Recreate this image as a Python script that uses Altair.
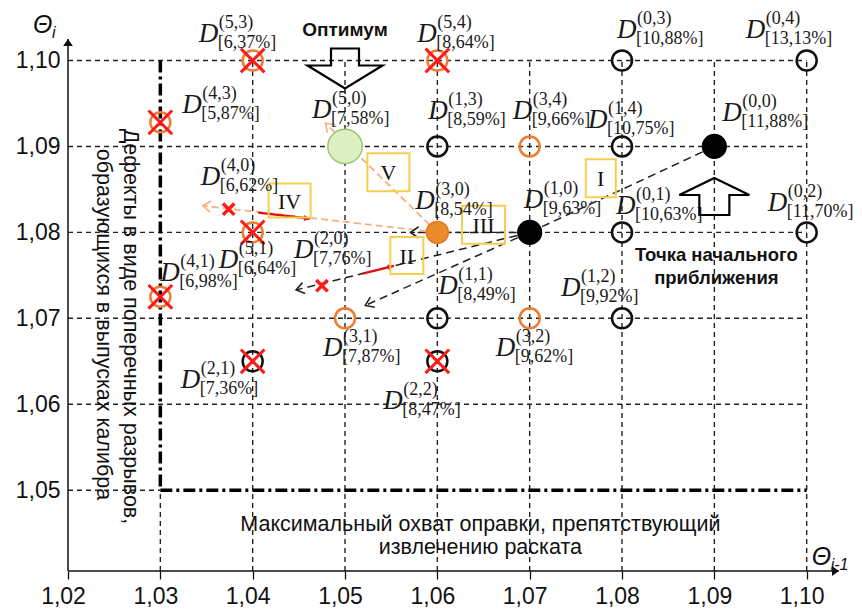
import math
import altair as alt
import pandas as pd

# ---------------- data ----------------
x_ticks = [1.02, 1.03, 1.04, 1.05, 1.06, 1.07, 1.08, 1.09, 1.10]
y_ticks = [1.05, 1.06, 1.07, 1.08, 1.09, 1.10]

# limits (thick dash-dot boundaries)
limit_theta_prev = 1.03   # vertical boundary (defects)
limit_theta_cur = 1.05    # horizontal boundary (mandrel)

pt_name = ["(5,3)", "(5,4)", "(0,3)", "(0,4)", "(4,3)", "(5,0)", "(1,3)", "(3,4)",
           "(1,4)", "(0,0)", "(4,0)", "(5,1)", "(3,0)", "(1,0)", "(0,1)", "(0,2)",
           "(4,1)", "(2,0)", "(1,1)", "(3,1)", "(3,2)", "(1,2)", "(2,1)", "(2,2)"]
pt_value = ["[6,37%]", "[8,64%]", "[10,88%]", "[13,13%]", "[5,87%]", "[7,58%]", "[8,59%]", "[9,66%]",
            "[10,75%]", "[11,88%]", "[6,62%]", "[6,64%]", "[8,54%]", "[9,63%]", "[10,63%]", "[11,70%]",
            "[6,98%]", "[7,76%]", "[8,49%]", "[7,87%]", "[9,62%]", "[9,92%]", "[7,36%]", "[8,47%]"]
pt_x = [1.04, 1.06, 1.08, 1.10, 1.03, 1.05, 1.06, 1.07,
        1.08, 1.09, 1.0374, 1.04, 1.06, 1.07, 1.08, 1.10,
        1.03, 1.0475, 1.06, 1.05, 1.07, 1.08, 1.04, 1.06]
pt_y = [1.10, 1.10, 1.10, 1.10, 1.0928, 1.09, 1.09, 1.09,
        1.09, 1.09, 1.0827, 1.08, 1.08, 1.08, 1.08, 1.08,
        1.0725, 1.0738, 1.07, 1.07, 1.07, 1.07, 1.065, 1.065]
pt_kind = ["rej_orange", "rej_orange", "black", "black", "rej_orange", "optimum", "black", "orange",
           "black", "start", "rej_mark", "rej_orange", "current", "start", "black", "black",
           "rej_orange", "rej_mark", "black", "orange", "orange", "black", "rej_black", "rej_black"]

# search steps (from -> to)
step_x1 = [1.09, 1.07, 1.07, 1.07, 1.06, 1.06, 1.0406, 1.0519]
step_y1 = [1.09, 1.08, 1.08, 1.08, 1.08, 1.08, 1.0823, 1.0752]
step_x2 = [1.07, 1.0571, 1.0447, 1.0522, 1.0479, 1.0346, 1.0462, 1.0553]
step_y2 = [1.08, 1.08, 1.0733, 1.0715, 1.0927, 1.0831, 1.0816, 1.0761]
step_kind = ["black_plain", "black", "black", "black", "orange", "orange", "red", "red"]

box_label = ["I", "II", "III", "IV", "V"]
box_cx = [1.0777, 1.0567, 1.0650, 1.0440, 1.0547]
box_cy = [1.0863, 1.0773, 1.0809, 1.0837, 1.0870]

# ---------------- layout ----------------
XMIN, XMAX = 1.02, 1.1035
YMIN, YMAX = 1.0406, 1.1025
W, H = 771, 532
SX = W / (XMAX - XMIN)
SY = H / (YMAX - YMIN)

def px_x(v, d):
    return v + d / SX

def px_y(v, d):
    return v - d / SY

# label anchors: offset (px) of "D" left/baseline from the point
lab_dx = [-54, -20, -5, -61, 22, -33, -9, -17, -34, 8, -28, -34, -22, -6, -6, -39,
          0, -28, 1, -22, -34, -61, -72, -54]
lab_dy = [-18, -18, -22, -22, -9, -28, -27, -27, -18, -25, -24, 36, -23, -24, -18, -21,
          -16, -28, -24, 38, 38, -22, 27, 48]

box_w = [30, 33, 43, 42, 42]
box_h = [38, 37, 38, 34, 38]

SANS = "Liberation Sans, Arial, sans-serif"
SERIF = "Liberation Serif, Times New Roman, serif"
ORANGE = "#ED7D31"
LORANGE = "#F4B183"
RED = "#FF1A1A"
GOLD = "#F7CD4E"
INK = "#111111"

xs = alt.Scale(domain=[XMIN, XMAX], nice=False, zero=False)
ys = alt.Scale(domain=[YMIN, YMAX], nice=False, zero=False)
lab_expr = "replace(format(datum.value, '.2f'), '.', ',')"
x_axis = alt.Axis(values=x_ticks, labelExpr=lab_expr, title=None, domain=False, grid=False,
                  ticks=True, tickSize=8, tickColor=INK, tickWidth=1.3,
                  labelFont=SANS, labelFontSize=23, labelColor=INK, labelFlush=False,
                  labelPadding=17, labelBaseline="middle", labelOffset=-5)
y_axis = alt.Axis(values=y_ticks, labelExpr=lab_expr, title=None, domain=False, grid=False,
                  ticks=False, labelFont=SANS, labelFontSize=23, labelColor=INK,
                  labelPadding=8, labelFlush=False)

def X(f):
    return alt.X(f, type="quantitative", scale=xs, axis=x_axis)

def Y(f):
    return alt.Y(f, type="quantitative", scale=ys, axis=y_axis)

layers = []

# ---- grid segments ----
grid = []
for yy in y_ticks[1:]:
    grid.append(dict(x1=x_ticks[0], y1=yy, x2=max(x_ticks), y2=yy))
grid.append(dict(x1=x_ticks[0], y1=limit_theta_cur, x2=limit_theta_prev, y2=limit_theta_cur))
for xx in x_ticks[2:]:
    grid.append(dict(x1=xx, y1=YMIN, x2=xx, y2=max(y_ticks)))
grid.append(dict(x1=limit_theta_prev, y1=YMIN, x2=limit_theta_prev, y2=limit_theta_cur))
layers.append(alt.Chart(pd.DataFrame(grid)).mark_rule(color="#222", strokeWidth=1.4, strokeDash=[5, 4])
              .encode(x=X("x1"), y=Y("y1"), x2="x2", y2="y2"))

# ---- boundaries ----
bnd = pd.DataFrame([
    dict(x1=limit_theta_prev, y1=max(y_ticks), x2=limit_theta_prev, y2=limit_theta_cur),
    dict(x1=limit_theta_prev, y1=limit_theta_cur, x2=max(x_ticks), y2=limit_theta_cur),
])
layers.append(alt.Chart(bnd).mark_rule(color="#000", strokeWidth=3.5, strokeDash=[12, 4, 3, 4])
              .encode(x=X("x1"), y=Y("y1"), x2="x2", y2="y2"))

# ---- axis lines + arrowheads ----
ax = pd.DataFrame([
    dict(x1=XMIN, y1=YMIN, x2=XMIN, y2=YMAX, ang=270),
    dict(x1=XMIN, y1=YMIN, x2=XMAX, y2=YMIN, ang=0),
])
layers.append(alt.Chart(ax).mark_rule(color=INK, strokeWidth=1.5)
              .encode(x=X("x1"), y=Y("y1"), x2="x2", y2="y2"))
layers.append(alt.Chart(ax).mark_point(shape="M 0 0 L -1 -0.7 L -1 0.7 Z", filled=True, color=INK,
                                       size=196, opacity=1)
              .encode(x=X("x2"), y=Y("y2"), angle=alt.Angle("ang:Q", scale=None)))

# ---- search steps ----
steps = pd.DataFrame(dict(x1=step_x1, y1=step_y1, x2=step_x2, y2=step_y2, kind=step_kind))
steps["ang"] = [
    math.degrees(math.atan2(-(b2 - b1) * SY, (a2 - a1) * SX)) % 360
    for a1, b1, a2, b2 in zip(steps.x1, steps.y1, steps.x2, steps.y2)
]
steps["col"] = steps.kind.map({"black_plain": "#222", "black": "#222", "orange": LORANGE, "red": "#E01010"})

blk = steps[steps.kind.isin(["black_plain", "black"])]
org = steps[steps.kind == "orange"]
red = steps[steps.kind == "red"]
layers.append(alt.Chart(blk).mark_rule(color="#222", strokeWidth=1.5, strokeDash=[8, 5])
              .encode(x=X("x1"), y=Y("y1"), x2="x2", y2="y2"))
layers.append(alt.Chart(org).mark_rule(color=LORANGE, strokeWidth=1.8, strokeDash=[7, 4])
              .encode(x=X("x1"), y=Y("y1"), x2="x2", y2="y2"))
layers.append(alt.Chart(red).mark_rule(color="#E01010", strokeWidth=2.4)
              .encode(x=X("x1"), y=Y("y1"), x2="x2", y2="y2"))
heads = steps[steps.kind.isin(["black", "orange"])]
layers.append(alt.Chart(heads).mark_point(shape="M -1 -0.7 L 0 0 L -1 0.7", filled=False,
                                          size=256, strokeWidth=1.6, opacity=1)
              .encode(x=X("x2"), y=Y("y2"), angle=alt.Angle("ang:Q", scale=None),
                      color=alt.Color("col:N", scale=None)))
layers.append(alt.Chart(red).mark_point(shape="M 0 0 L -1 -0.5 L -1 0.5 Z", filled=True,
                                        size=144, color="#E01010", opacity=1)
              .encode(x=X("x2"), y=Y("y2"), angle=alt.Angle("ang:Q", scale=None)))

# ---- boxes ----
boxes = pd.DataFrame(dict(lab=box_label, cx=box_cx, cy=box_cy))
boxes["bx1"] = [px_x(c, -w / 2) for c, w in zip(box_cx, box_w)]
boxes["bx2"] = [px_x(c, w / 2) for c, w in zip(box_cx, box_w)]
boxes["by1"] = [px_y(c, -h / 2) for c, h in zip(box_cy, box_h)]
boxes["by2"] = [px_y(c, h / 2) for c, h in zip(box_cy, box_h)]
layers.append(alt.Chart(boxes).mark_rect(fillOpacity=0, stroke=GOLD, strokeWidth=2)
              .encode(x=X("bx1"), x2="bx2", y=Y("by1"), y2="by2"))
layers.append(alt.Chart(boxes).mark_text(font=SERIF, fontSize=22, color=INK, baseline="middle", dy=1)
              .encode(x=X("cx"), y=Y("cy"), text="lab:N"))

# ---- points ----
pts = pd.DataFrame(dict(name=pt_name, val=pt_value, x=pt_x, y=pt_y, kind=pt_kind,
                        ldx=lab_dx, ldy=lab_dy))
pts["lx"] = [px_x(a, d) for a, d in zip(pts.x, pts.ldx)]
pts["ly"] = [px_y(b, d) for b, d in zip(pts.y, pts.ldy)]

opn = pts[pts.kind.isin(["black", "orange", "rej_orange", "rej_black"])].copy()
opn["col"] = opn.kind.map({"black": INK, "rej_black": INK, "orange": ORANGE, "rej_orange": ORANGE})
layers.append(alt.Chart(opn).mark_point(shape="circle", filled=False, size=400, strokeWidth=2.5, opacity=1)
              .encode(x=X("x"), y=Y("y"), color=alt.Color("col:N", scale=None)))

fil = pts[pts.kind.isin(["start", "current", "optimum"])].copy()
fil["fc"] = fil.kind.map({"start": "#000000", "current": "#EC8A2E", "optimum": "#DCF0C4"})
fil["sc"] = fil.kind.map({"start": "#000000", "current": "#E07B22", "optimum": "#9CC66F"})
fil["sz"] = fil.kind.map({"start": 560, "current": 480, "optimum": 1180})
layers.append(alt.Chart(fil).mark_point(shape="circle", filled=True, strokeWidth=1.5, opacity=1, fillOpacity=1)
              .encode(x=X("x"), y=Y("y"), fill=alt.Fill("fc:N", scale=None),
                      stroke=alt.Stroke("sc:N", scale=None), size=alt.Size("sz:Q", scale=None)))

rej = pts[pts.kind.isin(["rej_orange", "rej_black", "rej_mark"])].copy()
rej["sz"] = rej.kind.map({"rej_orange": 560, "rej_black": 560, "rej_mark": 130})
rej["sw"] = rej.kind.map({"rej_orange": 3.0, "rej_black": 3.0, "rej_mark": 3.5})
layers.append(alt.Chart(rej).mark_point(shape="M -1 -1 L 1 1 M 1 -1 L -1 1", filled=False, color=RED, opacity=1)
              .encode(x=X("x"), y=Y("y"), size=alt.Size("sz:Q", scale=None),
                      strokeWidth=alt.StrokeWidth("sw:Q", scale=None)))

# ---- point labels D^(a,b)_[v] ----
layers.append(alt.Chart(pts).mark_text(text="D", font=SERIF, fontStyle="italic", fontSize=27,
                                       align="left", baseline="alphabetic", color="#1a1a1a")
              .encode(x=X("lx"), y=Y("ly")))
layers.append(alt.Chart(pts).mark_text(font=SERIF, fontSize=18, align="left", baseline="alphabetic",
                                       dx=20, dy=-14, color="#1a1a1a")
              .encode(x=X("lx"), y=Y("ly"), text="name:N"))
layers.append(alt.Chart(pts).mark_text(font=SERIF, fontSize=18, align="left", baseline="alphabetic",
                                       dx=19, dy=6, color="#1a1a1a")
              .encode(x=X("lx"), y=Y("ly"), text="val:N"))

# ---- block arrows ----
arrows = pd.DataFrame([
    dict(x=1.05, y=px_y(1.10, 8), kind="down"),
    dict(x=1.09, y=px_y(1.10, 136), kind="up"),
])
layers.append(alt.Chart(arrows[arrows.kind == "down"]).mark_point(
    shape="M -0.373 -0.533 L 0.373 -0.533 L 0.373 -0.08 L 1 -0.08 L 0 0.533 L -1 -0.08 L -0.373 -0.08 Z",
    filled=False, size=5625, strokeWidth=2.2, color="#000", opacity=1)
    .encode(x=X("x"), y=Y("y")))
layers.append(alt.Chart(arrows[arrows.kind == "up"]).mark_point(
    shape="M 0 -0.529 L 1 -0.043 L 0.429 -0.043 L 0.429 0.529 L -0.429 0.529 L -0.429 -0.043 L -1 -0.043 Z",
    filled=False, size=4900, strokeWidth=2.2, color="#000", opacity=1)
    .encode(x=X("x"), y=Y("y")))

# ---- annotation texts ----
notes = pd.DataFrame([
    dict(x=1.05, y=px_y(1.10, -30), t="Оптимум", w="bold", s=19),
    dict(x=px_x(1.09, 2), y=px_y(1.08, 23), t="Точка начального", w="bold", s=18.5),
    dict(x=px_x(1.09, 2), y=px_y(1.08, 46), t="приближения", w="bold", s=18.5),
    dict(x=px_x(1.06, 43), y=px_y(1.05, 35), t="Максимальный охват оправки, препятствующий", w="normal", s=21.5),
    dict(x=px_x(1.06, 43), y=px_y(1.05, 58), t="извлечению раската", w="normal", s=21.5),
])
for _, r in notes.iterrows():
    layers.append(alt.Chart(pd.DataFrame([r])).mark_text(font=SANS, fontSize=r.s, fontWeight=r.w,
                                                          baseline="middle", color=INK)
                  .encode(x=X("x"), y=Y("y"), text="t:N"))

rot = pd.DataFrame([
    dict(x=px_x(1.03, -30), y=px_y(1.10, 266), t="Дефекты в виде поперечных разрывов,"),
    dict(x=px_x(1.03, -57), y=px_y(1.10, 264), t="образующихся в выпусках калибра"),
])
layers.append(alt.Chart(rot).mark_text(font=SANS, fontSize=21.5, angle=90, baseline="middle",
                                       align="center", color=INK)
              .encode(x=X("x"), y=Y("y"), text="t:N"))

# axis titles Θi and Θi-1
th = pd.DataFrame([
    dict(x=px_x(XMIN, -35), y=px_y(1.10, -27), sub="i"),
    dict(x=px_x(1.10, 5), y=px_y(1.05, 75), sub="i-1"),
])
layers.append(alt.Chart(th).mark_text(text="Θ", font=SANS, fontStyle="italic", fontSize=25,
                                      align="left", baseline="alphabetic", color=INK)
              .encode(x=X("x"), y=Y("y")))
layers.append(alt.Chart(th).mark_text(font=SANS, fontStyle="italic", fontSize=16,
                                      align="left", baseline="alphabetic", dx=19, dy=5, color=INK)
              .encode(x=X("x"), y=Y("y"), text="sub:N"))

chart = alt.layer(*layers).properties(
    width=W, height=H,
    autosize=alt.AutoSizeParams(type="none"),
    padding={"left": 60, "top": 31, "right": 15, "bottom": 42},
    background="white",
).configure_view(strokeWidth=0)

chart.save("out.html", embed_options={"renderer": "svg", "actions": False})
